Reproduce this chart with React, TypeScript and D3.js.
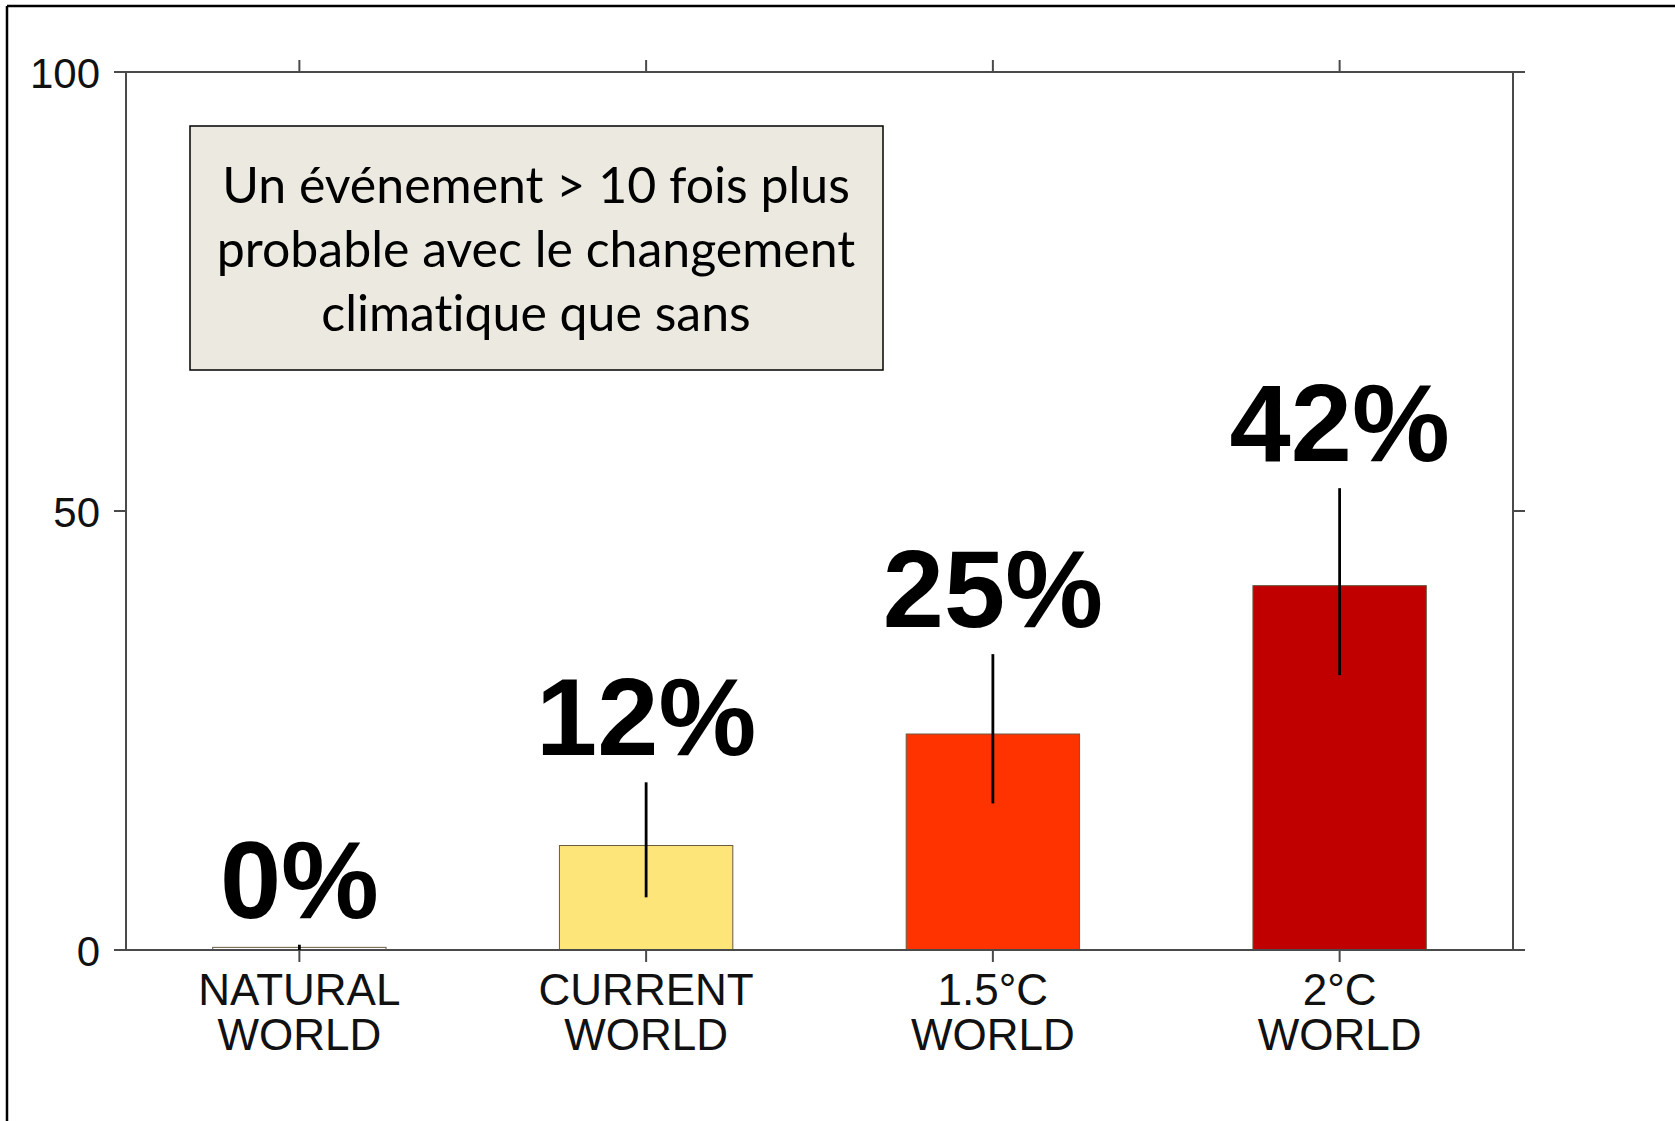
import React from "react";
import * as d3 from "d3";

const categories = ["NATURAL WORLD", "CURRENT WORLD", "1.5°C WORLD", "2°C WORLD"];
const categoryLine1 = ["NATURAL", "CURRENT", "1.5°C", "2°C"];
const categoryLine2 = ["WORLD", "WORLD", "WORLD", "WORLD"];
const values = [0.3, 11.9, 24.6, 41.5];
const errLow = [0, 6.0, 16.7, 31.3];
const errHigh = [0.6, 19.1, 33.7, 52.6];
const valueLabels = ["0%", "12%", "25%", "42%"];
const barColors = ["#ffffff", "#fde57a", "#ff3300", "#c00000"];
const yTicks = [0, 50, 100];
const boxLines = [
  "Un événement > 10 fois plus",
  "probable avec le changement",
  "climatique que sans",
];

const W = 1675;
const H = 1121;
const left = 126;
const right = 1513;
const top = 72;
const bottom = 950;

export default function App() {
  const x = d3.scaleBand<string>().domain(categories).range([left, right]).paddingInner(0.5).paddingOuter(0.25);
  const y = d3.scaleLinear().domain([0, 100]).range([bottom, top]);
  const axisColor = "#4a4a4a";
  const tickLen = 12;

  return (
    <svg width={W} height={H} style={{ position: "absolute", left: 0, top: 0, background: "#fff" }}>
      {/* outer frame */}
      <line x1={7} y1={6} x2={W} y2={6} stroke="#000" strokeWidth={2.5} />
      <line x1={7} y1={6} x2={7} y2={H} stroke="#000" strokeWidth={2.5} />

      {/* bars */}
      {categories.map((c, i) => (
        <rect
          key={"b" + c}
          x={x(c)}
          y={y(values[i])}
          width={x.bandwidth()}
          height={y(0) - y(values[i])}
          fill={barColors[i]}
          stroke="#6a5a40"
          strokeWidth={1}
        />
      ))}

      {/* axes frame */}
      <rect x={left} y={top} width={right - left} height={bottom - top} fill="none" stroke={axisColor} strokeWidth={2} />
      {yTicks.map((t) => (
        <g key={"yt" + t}>
          <line x1={left - tickLen} x2={left} y1={y(t)} y2={y(t)} stroke={axisColor} strokeWidth={2} />
          <line x1={right} x2={right + tickLen} y1={y(t)} y2={y(t)} stroke={axisColor} strokeWidth={2} />
          <text
            x={100}
            y={y(t)}
            dy="0.37em"
            textAnchor="end"
            fontFamily="Liberation Sans, Arial, sans-serif"
            fontSize={42}
            fill="#111"
          >
            {t}
          </text>
        </g>
      ))}
      {categories.map((c, i) => {
        const cx = (x(c) as number) + x.bandwidth() / 2;
        return (
          <g key={"xt" + c}>
            <line x1={cx} x2={cx} y1={top - tickLen} y2={top} stroke={axisColor} strokeWidth={2} />
            <line x1={cx} x2={cx} y1={bottom} y2={bottom + tickLen} stroke={axisColor} strokeWidth={2} />
            <text x={cx} y={1005} textAnchor="middle" fontFamily="Liberation Sans, Arial, sans-serif" fontSize={44} fill="#111">
              {categoryLine1[i]}
            </text>
            <text x={cx} y={1050} textAnchor="middle" fontFamily="Liberation Sans, Arial, sans-serif" fontSize={44} fill="#111">
              {categoryLine2[i]}
            </text>
          </g>
        );
      })}

      {/* error bars and labels */}
      {categories.map((c, i) => {
        const cx = (x(c) as number) + x.bandwidth() / 2;
        return (
          <g key={"e" + c}>
            <line x1={cx} x2={cx} y1={y(errLow[i])} y2={y(errHigh[i])} stroke="#000" strokeWidth={2.8} />
            <text
              x={cx}
              y={y(errHigh[i]) - 27}
              textAnchor="middle"
              fontFamily="Liberation Sans, Arial, sans-serif"
              fontWeight="bold"
              fontSize={110}
              fill="#000"
            >
              {valueLabels[i]}
            </text>
          </g>
        );
      })}

      {/* annotation box */}
      <rect x={190} y={126} width={693} height={244} fill="#eceae0" stroke="#000" strokeWidth={1.5} />
      {boxLines.map((l, i) => (
        <text
          key={"bl" + i}
          x={536}
          y={203 + i * 64}
          textAnchor="middle"
          fontFamily="Lato, sans-serif"
          fontSize={50}
          fill="#000"
          style={{ fontVariantLigatures: "none" }}
        >
          {l}
        </text>
      ))}
    </svg>
  );
}
